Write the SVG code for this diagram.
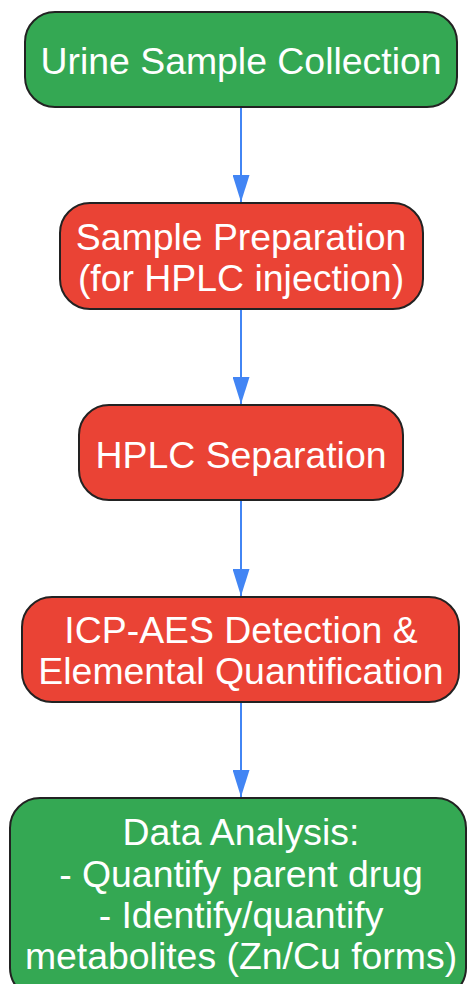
<svg xmlns="http://www.w3.org/2000/svg" width="467" height="984" viewBox="0 0 467 984">
<style>
.n rect{stroke:#222;stroke-width:2}
.g rect{fill:#34A853}
.r rect{fill:#EA4335}
text{font-family:"Liberation Sans",Arial,sans-serif;font-size:37.4px;fill:#fff;text-anchor:middle}
.e line{stroke:#4285F4;stroke-width:2}
</style>
<defs>
<marker id="ah" markerWidth="27" markerHeight="17" refX="27" refY="8.5" viewBox="0 0 27 17" orient="auto" markerUnits="userSpaceOnUse">
<path d="M0,0 L27,8.5 L0,17 Z" fill="#4285F4"/>
</marker>
</defs>
<g id="edges" class="e">
<line x1="241" y1="107" x2="241" y2="202" marker-end="url(#ah)"/>
<line x1="241" y1="309" x2="241" y2="404" marker-end="url(#ah)"/>
<line x1="241" y1="500" x2="241" y2="596" marker-end="url(#ah)"/>
<line x1="241" y1="702" x2="241" y2="797" marker-end="url(#ah)"/>
</g>
<g id="n1" class="n g">
<rect x="25" y="12" width="432" height="95" rx="30"/>
<text x="241" y="74">Urine Sample Collection</text>
</g>
<g id="n2" class="n r">
<rect x="60" y="203" width="363" height="106" rx="30"/>
<text x="241" y="250">Sample Preparation</text>
<text x="241" y="291">(for HPLC injection)</text>
</g>
<g id="n3" class="n r">
<rect x="79" y="405" width="324" height="95" rx="30"/>
<text x="241" y="468">HPLC Separation</text>
</g>
<g id="n4" class="n r">
<rect x="22" y="597" width="437" height="105" rx="30"/>
<text x="241" y="643">ICP-AES Detection &amp;</text>
<text x="241" y="684">Elemental Quantification</text>
</g>
<g id="n5" class="n g">
<rect x="10" y="798" width="456" height="200" rx="30"/>
<text x="241" y="845">Data Analysis:</text>
<text x="241" y="887">- Quantify parent drug</text>
<text x="241" y="928">- Identify/quantify</text>
<text x="241" y="969">metabolites (Zn/Cu forms)</text>
</g>
</svg>
